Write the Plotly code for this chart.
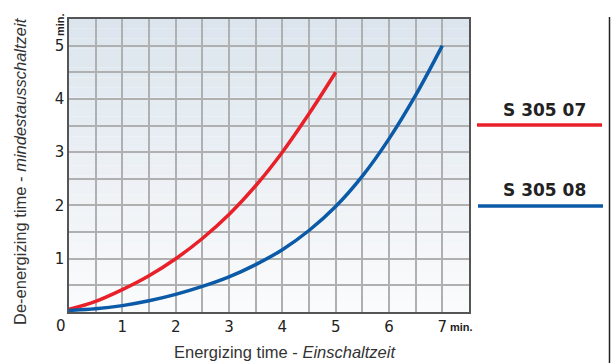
import plotly.graph_objects as go

# ---- data ----
x_07 = [0, 0.5, 1, 1.5, 2, 2.5, 3, 3.5, 4, 4.5, 5]
y_07 = [0.05, 0.2, 0.42, 0.68, 1.0, 1.38, 1.83, 2.37, 3.0, 3.72, 4.5]
x_08 = [0, 0.5, 1, 1.5, 2, 2.5, 3, 3.5, 4, 4.5, 5, 5.5, 6, 6.5, 7]
y_08 = [0.03, 0.06, 0.12, 0.21, 0.33, 0.48, 0.66, 0.89, 1.17, 1.53, 1.98, 2.55, 3.25, 4.07, 5.0]
series_names = ["S 305 07", "S 305 08"]
x_tick_vals = [0, 0.5, 1, 1.5, 2, 2.5, 3, 3.5, 4, 4.5, 5, 5.5, 6, 6.5, 7, 7.5]
x_tick_text = ["", "", "1", "", "2", "", "3", "", "4", "", "5", "", "6", "", "7", ""]
y_tick_vals = [0, 0.5, 1, 1.5, 2, 2.5, 3, 3.5, 4, 4.5, 5, 5.5]
y_tick_text = ["", "", "1", "", "2", "", "3", "", "4", "", "5", ""]

RED = "#e8202a"
BLUE = "#0b5aa8"

fig = go.Figure()
fig.add_trace(go.Scatter(x=x_07, y=y_07, mode="lines", line=dict(color=RED, width=3.5, shape="spline"),
                         name=series_names[0], showlegend=False))
fig.add_trace(go.Scatter(x=x_08, y=y_08, mode="lines", line=dict(color=BLUE, width=3.5, shape="spline"),
                         name=series_names[1], showlegend=False))

def px(xp):
    return (xp - 69) / 400

def py(yp):
    return (363 - 51 - yp) / 293

shapes = []
# vertical gradient background
n = 30
top = (0xdc, 0xe5, 0xed)
bot = (0xfa, 0xfb, 0xfc)
for i in range(n):
    t = i / (n - 1)
    c = tuple(round(bot[k] + (top[k] - bot[k]) * t) for k in range(3))
    shapes.append(dict(type="rect", xref="x domain", yref="y domain", x0=0, x1=1,
                       y0=i / n, y1=(i + 1) / n, fillcolor="rgb(%d,%d,%d)" % c,
                       line=dict(width=0), layer="below"))
# legend lines
shapes.append(dict(type="line", xref="paper", yref="paper", x0=px(477), x1=px(602),
                   y0=py(125), y1=py(125), line=dict(color=RED, width=3.5)))
shapes.append(dict(type="line", xref="paper", yref="paper", x0=px(478), x1=px(603),
                   y0=py(206), y1=py(206), line=dict(color=BLUE, width=3.5)))
# right vertical rule
shapes.append(dict(type="line", xref="paper", yref="paper", x0=px(609.5), x1=px(609.5),
                   y0=py(363), y1=py(17), line=dict(color="#222222", width=1.5)))


def ann(text, xp, yp, size, family, angle=0, color="#222"):
    return dict(text=text, x=px(xp), y=py(yp), xref="paper", yref="paper", showarrow=False,
                xanchor="center", yanchor="middle", textangle=angle,
                font=dict(family=family, size=size, color=color))


annotations = [
    ann("0", 61, 326, 15, "DejaVu Sans"),
    ann("<b>min.</b>", 461, 327, 11, "Liberation Sans Narrow, Liberation Sans"),
    ann("<b>min.</b>", 60, 25, 11, "Liberation Sans Narrow, Liberation Sans", angle=-90),
    ann("Energizing time - <i>Einschaltzeit</i>", 285, 352, 16.5, "Liberation Sans", color="#333"),
    ann("De-energizing time - <i>mindestausschaltzeit</i>", 20, 171, 16.5, "Liberation Sans",
        angle=-90, color="#333"),
    ann("<b>" + series_names[0] + "</b>", 544, 110, 17, "DejaVu Sans"),
    ann("<b>" + series_names[1] + "</b>", 544, 190, 17, "DejaVu Sans"),
]

axis_common = dict(showgrid=True, gridcolor="#b0b0b0", gridwidth=1.5, zeroline=False,
                   showline=True, linecolor="#555555", linewidth=1.5, mirror=True, ticks="",
                   tickfont=dict(family="DejaVu Sans", size=15, color="#222"))

fig.update_layout(
    width=611, height=363,
    margin=dict(l=69, r=142, t=19, b=51),
    paper_bgcolor="white", plot_bgcolor="white",
    xaxis=dict(range=[0, 7.5], tickmode="array", tickvals=x_tick_vals, ticktext=x_tick_text, **axis_common),
    yaxis=dict(range=[0, 5.5], tickmode="array", tickvals=y_tick_vals, ticktext=y_tick_text, **axis_common),
    shapes=shapes, annotations=annotations, showlegend=False,
)

fig.write_html("out.html", config={"displayModeBar": False},
               post_script="document.body.style.margin='0';document.body.style.overflow='hidden';")
